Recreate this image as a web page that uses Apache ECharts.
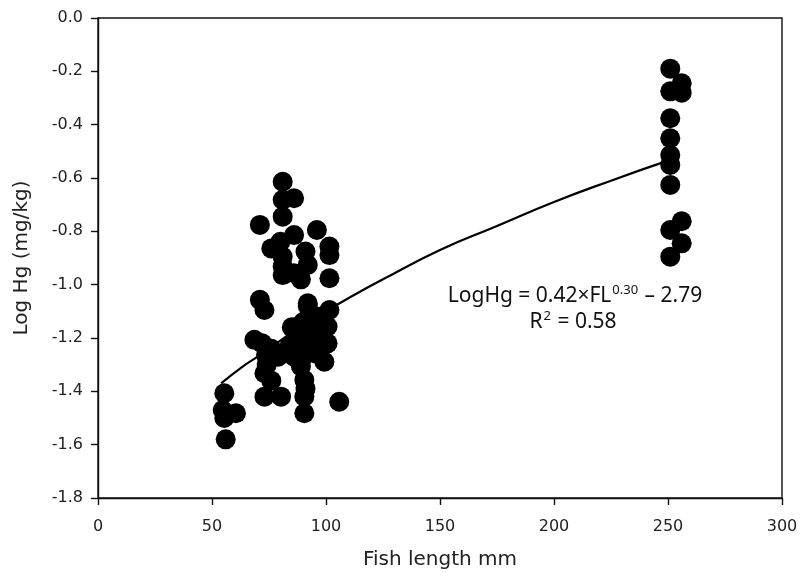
<!DOCTYPE html>
<html><head><meta charset="utf-8">
<script src="https://cdn.jsdelivr.net/npm/echarts@6/dist/echarts.min.js"></script>
<style>html,body{margin:0;padding:0;background:#fff}#c{width:801px;height:578px}</style>
</head><body><div id="c"></div>
<script>
// Fish length (mm) of each sampled fish
const fishLength = [
  81, 81, 86, 81, 71, 96, 86, 80, 76, 101.5, 81, 91, 101.5, 92, 81, 86, 81, 101.5, 89,
  71, 92, 73, 92, 101.5, 87.6, 68.6, 100.7, 100.7, 92, 73.7, 99.3, 73, 89, 90.5,
  73, 80.3, 90.5, 105.8, 90.5, 55.4, 54.7, 60.5, 55.4, 56,
  72, 76, 79, 74, 76, 84, 86, 88, 90, 93, 95, 94, 90, 97, 98, 96, 91, 85,
  251, 251, 256, 256, 251, 251, 251, 251, 251, 256, 251, 256, 251
];
// Log Hg (mg/kg) of each sampled fish
const logHg = [
  -0.614, -0.682, -0.676, -0.745, -0.776, -0.795, -0.814, -0.839, -0.864, -0.857, -0.895, -0.876, -0.889, -0.926, -0.932, -0.957, -0.964, -0.976, -0.98,
  -1.057, -1.07, -1.095, -1.08, -1.095, -1.157, -1.207, -1.157, -1.22, -1.195, -1.264, -1.289, -1.332, -1.307, -1.357,
  -1.42, -1.42, -1.42, -1.439, -1.482, -1.407, -1.47, -1.482, -1.50, -1.58,
  -1.22, -1.24, -1.27, -1.30, -1.36, -1.23, -1.27, -1.22, -1.14, -1.11, -1.15, -1.24, -1.27, -1.12, -1.19, -1.26, -1.39, -1.16,
  -0.19, -0.275, -0.245, -0.28, -0.376, -0.451, -0.514, -0.551, -0.626, -0.762, -0.795, -0.845, -0.895
];
// Fitted curve
const fitX = [54, 63, 70, 80, 90, 100, 110, 125, 150, 175, 200, 225, 250];
const fitY = [-1.37, -1.31, -1.27, -1.21, -1.15, -1.10, -1.05, -0.98, -0.87, -0.78, -0.69, -0.61, -0.535];
const xTicks = [0, 50, 100, 150, 200, 250, 300];
const yTicks = [0.0, -0.2, -0.4, -0.6, -0.8, -1.0, -1.2, -1.4, -1.6, -1.8];

const pts = fishLength.map((x, i) => [x, logHg[i]]);
const fit = fitX.map((x, i) => [x, fitY[i]]);

const chart = echarts.init(document.getElementById('c'), null, {renderer: 'canvas'});
const font = 'DejaVu Sans, sans-serif';
const eqFont = 'Noto Sans, sans-serif';
chart.setOption({
  animation: false,
  backgroundColor: '#fff',
  grid: {left: 98, right: 19, top: 18, bottom: 80, show: true, borderColor: '#111', borderWidth: 1.4, backgroundColor: 'transparent'},
  xAxis: {
    type: 'value', min: xTicks[0], max: xTicks[xTicks.length - 1], interval: 50,
    name: 'Fish length mm', nameLocation: 'middle', nameGap: 52,
    nameTextStyle: {fontFamily: font, fontSize: 20, color: '#222'},
    axisLine: {onZero: false, lineStyle: {color: '#111', width: 1.4}},
    axisTick: {show: true, inside: false, length: 7, lineStyle: {color: '#111', width: 1.4}},
    axisLabel: {fontFamily: font, fontSize: 16, color: '#222', margin: 21},
    splitLine: {show: false}
  },
  yAxis: {
    type: 'value', min: yTicks[yTicks.length - 1], max: yTicks[0], interval: 0.2,
    name: 'Log Hg (mg/kg)', nameLocation: 'middle', nameGap: 66, nameRotate: 90,
    nameTextStyle: {fontFamily: font, fontSize: 20, color: '#222'},
    axisLine: {onZero: false, lineStyle: {color: '#111', width: 1.4}},
    axisTick: {show: true, inside: false, length: 7, lineStyle: {color: '#111', width: 1.4}},
    axisLabel: {fontFamily: font, fontSize: 16, color: '#222', margin: 15, formatter: v => v.toFixed(1)},
    splitLine: {show: false}
  },
  series: [
    {type: 'scatter', data: pts, symbol: 'circle', symbolSize: 20, itemStyle: {color: '#000', opacity: 1}, z: 3},
    {type: 'line', data: fit, smooth: true, showSymbol: false, lineStyle: {color: '#000', width: 2.2}, z: 4}
  ],
  graphic: [
    {type: 'text', x: 575, y: 296, style: {
      text: '{a|LogHg = 0.42×FL}{s|0.30}{a| – 2.79}', align: 'center', verticalAlign: 'middle',
      rich: {a: {fontFamily: eqFont, fontSize: 21, fill: '#111'}, s: {fontFamily: eqFont, fontSize: 13, fill: '#111', verticalAlign: 'top', padding: [0, 1, 12, 1]}}
    }},
    {type: 'text', x: 573, y: 322, style: {
      text: '{a|R}{s|2}{a| = 0.58}', align: 'center', verticalAlign: 'middle',
      rich: {a: {fontFamily: eqFont, fontSize: 21, fill: '#111'}, s: {fontFamily: eqFont, fontSize: 13, fill: '#111', verticalAlign: 'top', padding: [0, 1, 12, 1]}}
    }}
  ]
});
</script></body></html>
